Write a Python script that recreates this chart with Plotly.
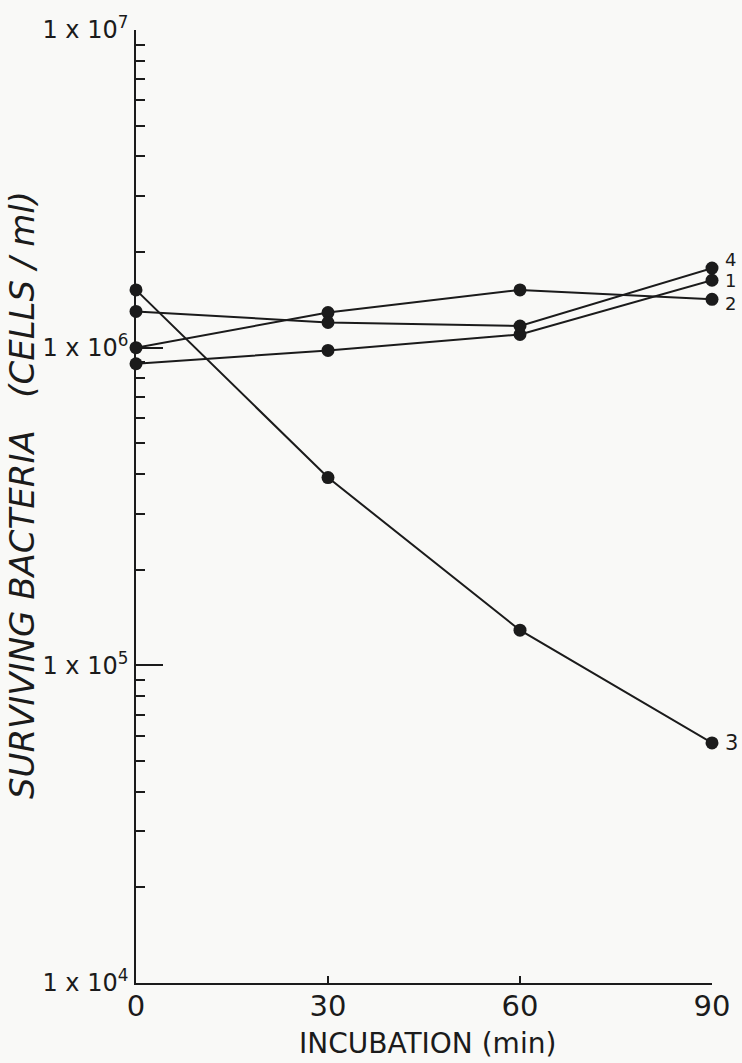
import math
import plotly.graph_objects as go

# Incubation times (min)
incubation = [0, 30, 60, 90]

# Surviving bacteria (cells/ml) for each numbered curve
curve_1 = [8.9e5, 9.8e5, 1.10e6, 1.63e6]
curve_2 = [1.0e6, 1.29e6, 1.52e6, 1.42e6]
curve_3 = [1.52e6, 3.9e5, 1.29e5, 5.7e4]
curve_4 = [1.30e6, 1.20e6, 1.17e6, 1.78e6]

curve_names = ["1", "2", "3", "4"]
curves = [curve_1, curve_2, curve_3, curve_4]

# Vertical nudges for the end labels so they don't collide
label_yshift = {"1": 0, "2": -4, "3": 0, "4": 9}

y_tick_vals = [1e4, 1e5, 1e6, 1e7]
y_tick_text = ["1 x 10<sup>4</sup>", "1 x 10<sup>5</sup>", "1 x 10<sup>6</sup>", "1 x 10<sup>7</sup>"]
x_tick_vals = [0, 30, 60, 90]

INK = "#1b1b1b"
FONT = "DejaVu Sans"

fig = go.Figure()
for name, vals in zip(curve_names, curves):
    fig.add_trace(go.Scatter(
        x=incubation, y=vals, name=name, mode="lines+markers",
        line=dict(color=INK, width=2),
        marker=dict(color=INK, size=13),
        cliponaxis=False, showlegend=False,
    ))

annotations = []
for name, vals in zip(curve_names, curves):
    # annotations on a log axis take log10 coordinates
    annotations.append(dict(
        x=incubation[-1], y=math.log10(vals[-1]), yref="y", xref="x",
        text=name, showarrow=False, xanchor="left", yanchor="middle",
        xshift=11, yshift=label_yshift[name],
        font=dict(family=FONT, size=18 if name != "3" else 21, color=INK),
    ))

# Axis titles
annotations.append(dict(
    x=0.506, y=-0.0635, xref="paper", yref="paper",
    text="INCUBATION (min)", showarrow=False,
    xanchor="center", yanchor="middle",
    font=dict(family=FONT, size=28, color=INK),
))
annotations.append(dict(
    x=-0.198, y=0.512, xref="paper", yref="paper",
    text="<i>SURVIVING BACTERIA&nbsp;&nbsp;&nbsp;(CELLS / ml)</i>", showarrow=False,
    textangle=-90, xanchor="center", yanchor="middle",
    font=dict(family=FONT, size=34, color=INK),
))

minor_vals = [k * 10 ** d for d in range(4, 7) for k in range(2, 10)]

fig.update_layout(
    width=742, height=1063,
    margin=dict(l=136, r=29, t=20, b=80),
    paper_bgcolor="#f9f9f7", plot_bgcolor="#f9f9f7",
    annotations=annotations,
    xaxis=dict(
        range=[0, 90], tickvals=x_tick_vals,
        showline=True, linecolor=INK, linewidth=1.6,
        ticks="inside", ticklen=7, tickwidth=1.5, tickcolor=INK,
        showgrid=False, zeroline=False,
        tickfont=dict(family=FONT, size=29, color=INK),
        ticklabelstandoff=-4,
    ),
    yaxis=dict(
        type="log", range=[4, 7],
        tickvals=y_tick_vals, ticktext=y_tick_text,
        showline=True, linecolor=INK, linewidth=1.6,
        ticks="inside", ticklen=27, tickwidth=1.5, tickcolor=INK,
        minor=dict(ticks="inside", ticklen=9, tickwidth=1.5, tickcolor=INK,
                   tickvals=minor_vals, showgrid=False),
        showgrid=False, zeroline=False,
        tickfont=dict(family=FONT, size=24, color=INK),
        ticklabelstandoff=1,
    ),
)

fig.write_html("out.html")
